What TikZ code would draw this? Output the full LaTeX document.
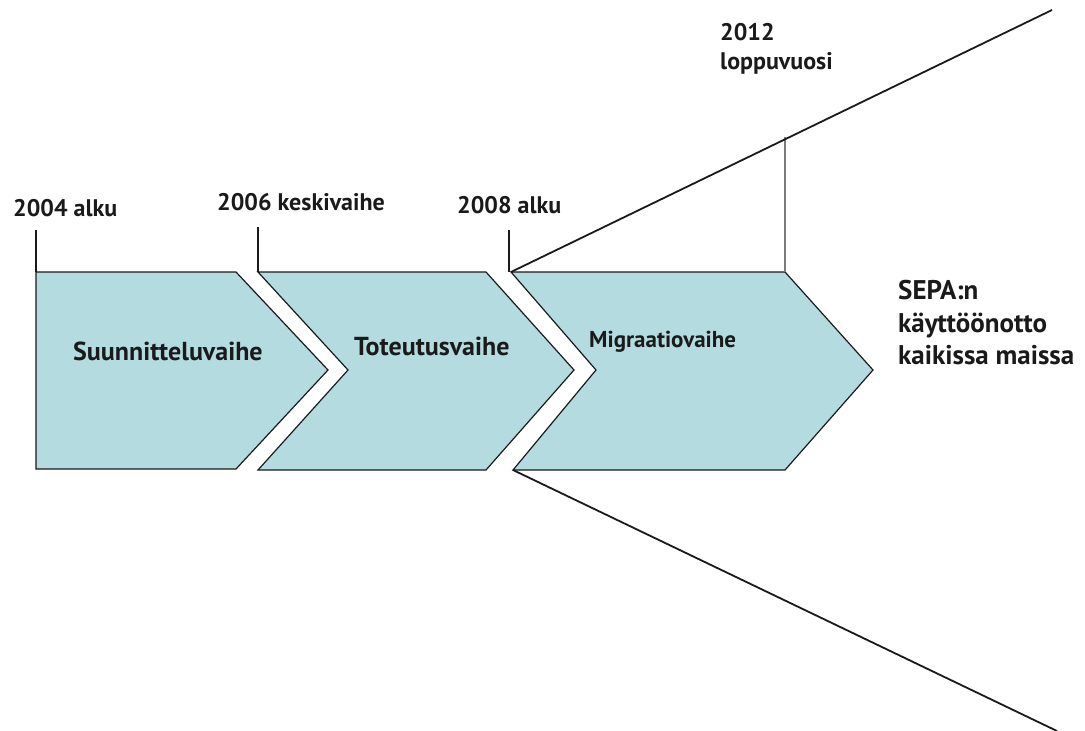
\documentclass[tikz,border=0pt]{standalone}
\usepackage{fontspec}
\setmainfont{PT Sans}
\usetikzlibrary{positioning}
\definecolor{ink}{HTML}{1A1A1A}
\definecolor{phasefill}{HTML}{B4DCE0}
\definecolor{tickgray}{HTML}{7A7A7A}
\tikzset{
  phase/.style={fill=phasefill, draw=ink, line width=1.2pt, line join=miter},
  phaselabel/.style={font=\bfseries\fontsize{26}{30}\selectfont, text=ink, anchor=base west, inner sep=0pt},
  datelabel/.style={font=\bfseries\fontsize{24}{28}\selectfont, text=ink, anchor=base west, inner sep=0pt},
  goal/.style={font=\bfseries\fontsize{27}{32}\selectfont, text=ink, anchor=base west, inner sep=0pt},
  tickline/.style={draw=ink, line width=1.6pt},
  ray/.style={draw=ink, line width=1.8pt},
}

\begin{document}
\begin{tikzpicture}[x=1pt,y=-1pt]
\useasboundingbox (0,0) rectangle (1085,731);

% phases
\draw[phase] (36,272) coordinate (p1) -- (236,272) -- (328,370) -- (236,469) -- (36,469) -- cycle;
\draw[phase] (258,272) coordinate (p2) -- (486,272) -- (574,370) -- (486,470) -- (258,470) -- (348,370) -- cycle;
\draw[phase] (511,272) coordinate (p3) -- (785,272) coordinate (p4) -- (873,370) -- (785,470) -- (513,470) coordinate (p3b) -- (596,370) -- cycle;

\node[phaselabel] (ph1) at (73,360) {Suunnitteluvaihe};
\node[phaselabel] (ph2) at (354,355) {Toteutusvaihe};
\node[phaselabel, font=\bfseries\fontsize{23}{27}\selectfont] (ph3) at (589,347) {Migraatiovaihe};

% ticks
\coordinate (t1) at (36,230);
\coordinate (t2) at (258,227);
\coordinate (t3) at (509,230);
\coordinate (t4) at (785,137);
\draw[tickline, line width=2.6pt] (p1) -- (t1);
\draw[tickline] (p2) -- (t2);
\draw[tickline, line width=1.2pt] (509,272) -- (t3);
\draw[tickline, draw=tickgray] (p4) -- (t4);

% rays
\coordinate (ru) at (1052,10);
\coordinate (rd) at (1057,731);
\draw[ray] (p3) -- (ru);
\draw[ray] (p3b) -- (rd);

% dates
\node[datelabel] (d1) at (13,216) {2004 alku};
\node[datelabel] (d2) at (217,210) {2006 keskivaihe};
\node[datelabel] (d3) at (457,213) {2008 alku};
\node[datelabel] (d4) at (720,40) {2012};
\node[datelabel] (d5) at (720,69) {loppuvuosi};

% goal
\node[goal] (g1) at (898,299) {SEPA:n};
\node[goal] (g2) at (898,332) {käyttöönotto};
\node[goal] (g3) at (898,364) {kaikissa maissa};

\end{tikzpicture}
\end{document}
